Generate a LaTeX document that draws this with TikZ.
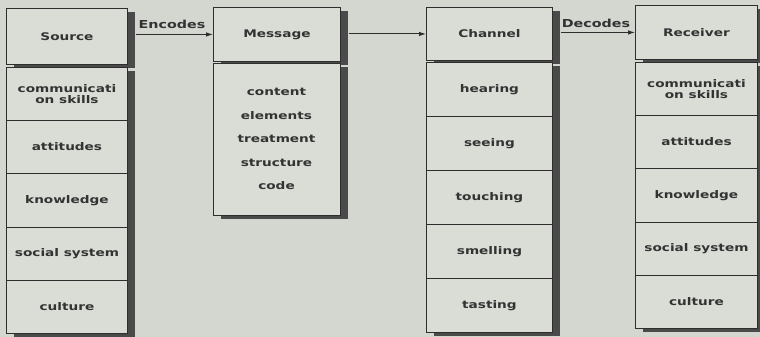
\documentclass[tikz,border=0pt]{standalone}
\usepackage{fontspec}
\newfontfamily\diafont{DejaVu Sans}[FakeStretch=1.3]
\usetikzlibrary{arrows.meta}
\definecolor{bgc}{HTML}{D3D7D0}
\definecolor{boxc}{HTML}{DADDD6}
\definecolor{shadc}{HTML}{4A4A4A}
\definecolor{linec}{HTML}{2E2E2E}
\definecolor{txtc}{HTML}{333333}
\begin{document}
\begin{tikzpicture}[x=1pt,y=-1pt,
  cell/.style={draw=linec, line width=0.9pt, fill=boxc, inner sep=0pt, anchor=north west,
    align=center, font=\diafont\bfseries\fontsize{10.5}{11.5}\selectfont, text=txtc,
    preaction={fill=shadc, transform canvas={xshift=8pt,yshift=-4pt}}},
  txt/.style={inner sep=0pt, font=\diafont\bfseries\fontsize{10.5}{11.5}\selectfont, text=txtc},
  lbl/.style={inner sep=0pt, font=\diafont\bfseries\fontsize{11}{12}\selectfont, text=txtc},
  conn/.style={draw=linec, line width=0.9pt, -{Latex[length=7pt,width=4.5pt]}}
]
\fill[bgc] (0,0) rectangle (760,337);
\useasboundingbox (0,0) rectangle (760,337);

% Source column
\node[cell, minimum width=121pt, minimum height=56pt] (srch) at (6,8) {Source};
\node[cell, minimum width=121pt, minimum height=53pt] (s1) at (6,67) {communicati\\on skills};
\node[cell, minimum width=121pt, minimum height=53pt] (s2) at (6,120) {attitudes};
\node[cell, minimum width=121pt, minimum height=54pt] (s3) at (6,173) {knowledge};
\node[cell, minimum width=121pt, minimum height=53pt] (s4) at (6,227) {social system};
\node[cell, minimum width=121pt, minimum height=53pt] (s5) at (6,280) {culture};

% Message column
\node[cell, minimum width=127pt, minimum height=54pt] (msgh) at (213,7) {Message};
\node[cell, minimum width=127pt, minimum height=152pt] (msgl) at (213,63) {};
\node[txt] (m1) at (276.5,92) {content};
\node[txt] (m2) at (276.5,116) {elements};
\node[txt] (m3) at (276.5,139) {treatment};
\node[txt] (m4) at (276.5,163) {structure};
\node[txt] (m5) at (276.5,186) {code};

% Channel column
\node[cell, minimum width=126pt, minimum height=53pt] (chh) at (426,7) {Channel};
\node[cell, minimum width=126pt, minimum height=54pt] (c1) at (426,62) {hearing};
\node[cell, minimum width=126pt, minimum height=54pt] (c2) at (426,116) {seeing};
\node[cell, minimum width=126pt, minimum height=54pt] (c3) at (426,170) {touching};
\node[cell, minimum width=126pt, minimum height=54pt] (c4) at (426,224) {smelling};
\node[cell, minimum width=126pt, minimum height=54pt] (c5) at (426,278) {tasting};

% Receiver column
\node[cell, minimum width=122pt, minimum height=54pt] (rch) at (635,5) {Receiver};
\node[cell, minimum width=122pt, minimum height=53pt] (r1) at (635,62) {communicati\\on skills};
\node[cell, minimum width=122pt, minimum height=53pt] (r2) at (635,115) {attitudes};
\node[cell, minimum width=122pt, minimum height=54pt] (r3) at (635,168) {knowledge};
\node[cell, minimum width=122pt, minimum height=53pt] (r4) at (635,222) {social system};
\node[cell, minimum width=122pt, minimum height=53pt] (r5) at (635,275) {culture};

% Connectors
\draw[conn] ([xshift=8pt]srch.east |- msgh.west) -- (msgh.west);
\draw[conn] ([xshift=8pt]msgh.east |- chh.west) -- (chh.west);
\draw[conn] ([xshift=8pt]chh.east |- rch.west) -- (rch.west);

% Labels
\node[lbl] (enc) at (172,24) {Encodes};
\node[lbl] (dec) at (596,23) {Decodes};
\end{tikzpicture}
\end{document}
